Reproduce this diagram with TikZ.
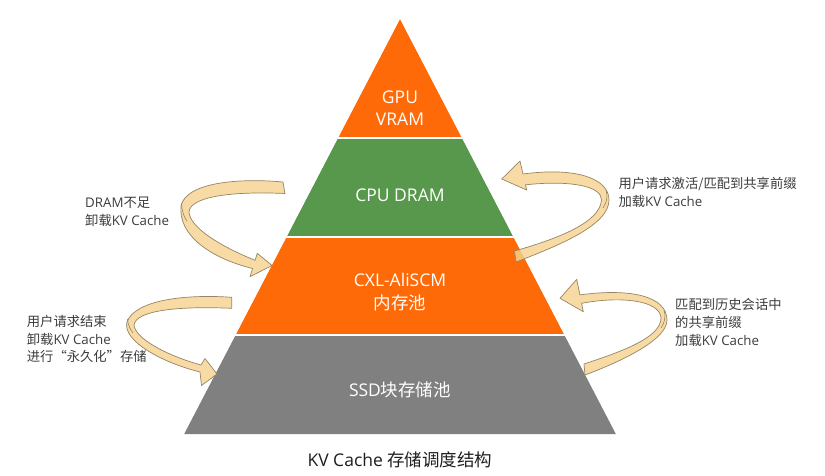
\documentclass[tikz,border=0pt]{standalone}
\usepackage{fontspec}
\setmainfont{Open Sans}
\newfontfamily\cjk{Noto Sans CJK SC}
\newcommand\zh[1]{{\cjk #1}}
\definecolor{porange}{RGB}{255,106,8}
\definecolor{pgreen}{RGB}{88,152,76}
\definecolor{pgray}{RGB}{128,128,128}
\definecolor{ribfill}{RGB}{246,211,144}
\definecolor{ribline}{RGB}{150,132,100}
\definecolor{labtxt}{RGB}{60,60,60}
\definecolor{captxt}{RGB}{30,30,30}
\begin{document}
\begin{tikzpicture}[x=1pt,y=-1pt,
  band/.style={draw=white,line width=1.5pt,line join=round},
  bandtxt/.style={text=white,align=center,inner sep=0pt,font=\fontsize{17.5}{22.5}\selectfont},
  lab/.style={text=labtxt,align=left,inner sep=0pt,anchor=west,font=\fontsize{13.3}{17.8}\selectfont},
  ribbon/.style={fill=ribfill,fill opacity=0.82,draw=ribline,line width=0.7pt,line join=round},
  fold/.style={draw=ribline,line width=0.6pt}]
\useasboundingbox (0,0) rectangle (825,475);
% pyramid bands
\fill[band,fill=porange] (400,17) -- (463,138) -- (337,138) -- cycle;
\fill[band,fill=pgreen] (337,138) -- (463,138) -- (514.5,237) -- (285.5,237) -- cycle;
\fill[band,fill=porange] (285.5,237) -- (514.5,237) -- (565.5,335) -- (234.5,335) -- cycle;
\fill[band,fill=pgray] (234.5,335) -- (565.5,335) -- (617.5,435) -- (182.5,435) -- cycle;
\draw[band] (400,17) -- (463,138) -- (337,138) -- cycle;
\draw[band] (337,138) -- (463,138) -- (514.5,237) -- (285.5,237) -- cycle;
\draw[band] (285.5,237) -- (514.5,237) -- (565.5,335) -- (234.5,335) -- cycle;
\draw[band] (234.5,335) -- (565.5,335) -- (617.5,435) -- (182.5,435) -- cycle;
% band texts
\node[bandtxt] (gpu) at (400,108) {GPU\\VRAM};
\node[bandtxt] (cpu) at (400,195) {CPU DRAM};
\node[bandtxt] (cxl) at (400,292) {CXL-AliSCM\\\zh{内存池}};
\node[bandtxt] (ssd) at (400,390) {SSD\zh{块存储池}};
% caption
\node[text=captxt,inner sep=0pt,font=\fontsize{17.5}{21}\selectfont] (cap) at (400,460) {KV Cache \zh{存储调度结构}};
% ribbon arrows
% left top: DRAM -> CXL
\draw[ribbon] (283,182)
  .. controls (240,178) and (186,182) .. (181,206)
  .. controls (178,235) and (210,258) .. (252.6,268.5)
  -- (250,276.7) -- (272,265.5) -- (257.3,253.3) -- (255.1,260.3)
  .. controls (222,247) and (190,228) .. (189,212)
  .. controls (190,197) and (230,191) .. (285,193.5) -- cycle;
\draw[fold] (181.5,203) .. controls (182,212) and (184,217) .. (187,221);
% left bottom: CXL -> SSD
\draw[ribbon] (231.7,297.3)
  .. controls (185,294) and (135,300) .. (127,322)
  .. controls (122,340) and (160,362) .. (200,372)
  -- (201.5,385.5) -- (217,374) -- (205,358.5) -- (201,365)
  .. controls (165,355) and (135,338) .. (134,325)
  .. controls (136,310) and (180,306) .. (231.7,308.3) -- cycle;
\draw[fold] (127.5,319) .. controls (128,325) and (130,329) .. (133,333);
% right top: CXL -> DRAM
\draw[ribbon] (514.5,251)
  .. controls (560,238) and (600,222) .. (601.5,200)
  .. controls (602,186) and (570,180) .. (525.5,184.8)
  -- (526.7,190) -- (501.7,179) -- (520,161) -- (523,174)
  .. controls (575,167) and (609,178) .. (609,200)
  .. controls (609,225) and (560,245) .. (516,262) -- cycle;
\draw[fold] (606,190) .. controls (608,196) and (607,202) .. (603,208);
% right bottom: SSD -> CXL
\draw[ribbon] (584,364)
  .. controls (620,352) and (661,338) .. (661,318)
  .. controls (660,300) and (620,296) .. (581.6,303.3)
  -- (583.3,311.7) -- (560,298.3) -- (576.7,279.3) -- (579.9,294.9)
  .. controls (630,288) and (667,296) .. (667,320)
  .. controls (667,338) and (630,358) .. (585,375) -- cycle;
\draw[fold] (664,310) .. controls (666,316) and (665,322) .. (661,328);
% labels
\node[lab] (lt) at (85,211.5) {DRAM\zh{不足}\\\zh{卸载}KV Cache};
\node[lab] (lb) at (26.7,339) {\zh{用户请求结束}\\\zh{卸载}KV Cache\\\zh{进行“永久化”存储}};
\node[lab] (rt) at (618.3,192.5) {\zh{用户请求激活/匹配到共享前缀}\\\zh{加载}KV Cache};
\node[lab] (rb) at (675,322.5) {\zh{匹配到历史会话中}\\\zh{的共享前缀}\\\zh{加载}KV Cache};
\end{tikzpicture}
\end{document}
